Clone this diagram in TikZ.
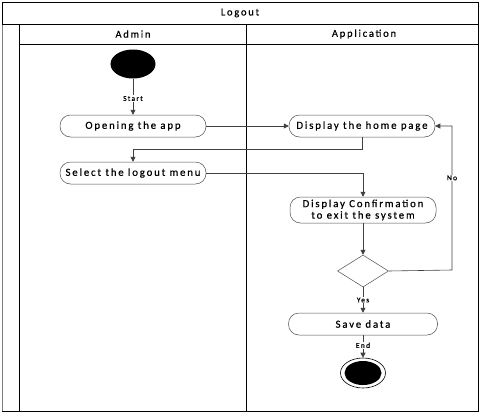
\documentclass[tikz,border=0pt]{standalone}
\usepackage{fontspec}
\setmainfont{Carlito}[LetterSpace=17,FakeBold=0.6]
\usetikzlibrary{shapes.geometric,arrows.meta}
\begin{document}
\begin{tikzpicture}[x=1pt,y=-1pt,
  act/.style={draw=black!70,line width=0.5pt,rounded corners=10.5pt,minimum width=146pt,minimum height=22pt,inner sep=0pt,font=\fontsize{10.8}{12}\selectfont,align=center},
  conn/.style={draw=black!75,line width=0.6pt,-{Triangle[length=5pt,width=5pt]}},
  lbl/.style={fill=white,inner sep=0.6pt,font=\fontsize{7.5}{8}\selectfont},
  hdr/.style={font=\fontsize{10.5}{12}\selectfont},
  frame/.style={draw=black,line width=0.8pt}]
\useasboundingbox (0,0) rectangle (480,413);
\draw[frame] (2,2) rectangle (478,411);
\draw[draw=black!50,line width=1.5pt] (2.5,24) -- (2.5,411);
\draw[frame] (2,24) -- (478,24);
\draw[frame] (19,24) -- (19,411);
\draw[frame] (19,44) -- (478,44);
\draw[frame] (246,24) -- (246,411);
\node[hdr] (title) at (240,13) {Logout};
\node[hdr] (admin) at (133,34) {Admin};
\node[hdr] (appl) at (364,34) {Application};

\node[ellipse,fill=black,minimum width=45pt,minimum height=29pt,inner sep=0pt] (start) at (133,64) {};
\node[act] (open) at (133,126) {Opening the app};
\node[act] (home) at (362,126) {Display the home page};
\node[act] (select) at (133,173) {Select the logout menu};
\node[act,minimum height=26pt,font=\fontsize{10.8}{11.5}\selectfont] (conf) at (363,210) {Display Confirmation\\to exit the system};
\node[diamond,draw=black!70,line width=0.5pt,minimum width=51pt,minimum height=32pt,inner sep=0pt,aspect=1.6] (dec) at (363,271) {};
\node[act,minimum width=149pt] (save) at (363,324) {Save data};
\node[ellipse,draw=black,line width=0.6pt,minimum width=45pt,minimum height=30pt,inner sep=0pt] (end) at (363,373) {};
\node[ellipse,fill=black,minimum width=37pt,minimum height=24pt,inner sep=0pt] (endin) at (363,373) {};

\draw[conn] (start) -- node[lbl,pos=0.55] {Start} (open);
\draw[conn] (open) -- (home);
\draw[conn] (home.south) -- (362,149) -- (133,149) -- (select.north);
\draw[conn] (select.east) -- (363,173) -- (conf.north);
\draw[conn] (conf) -- (dec.north);
\draw[conn] (dec.east) -- (452,270) -- node[lbl,pos=0.64] {No} (452,126) -- (home.east);
\draw[conn] (dec.south) -- node[lbl,pos=0.5] {Yes} (save.north);
\draw[conn] (save.south) -- node[lbl,pos=0.45] {End} (end.north);
\end{tikzpicture}
\end{document}
